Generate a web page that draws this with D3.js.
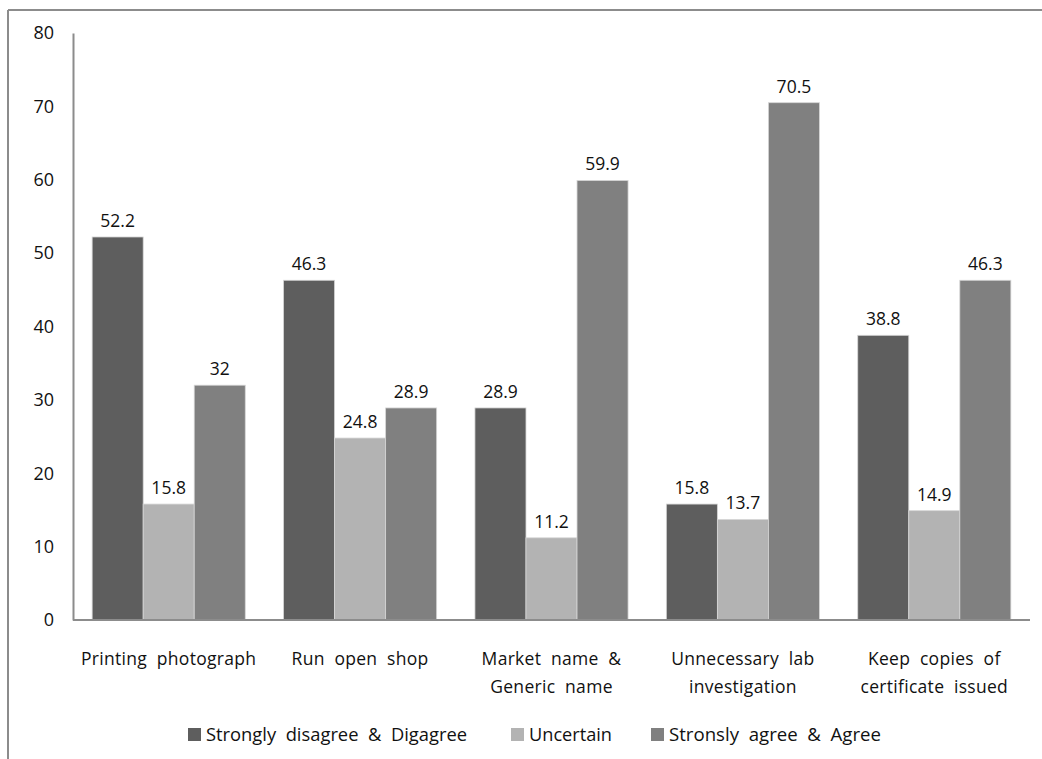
<!DOCTYPE html>
<html>
<head>
<meta charset="utf-8">
<script src="https://cdn.jsdelivr.net/npm/d3@7"></script>
<style>
  html, body { margin: 0; padding: 0; background: #fff; }
  svg { display: block; }
  text { font-family: "Open Sans", "Liberation Sans", sans-serif; fill: #111; }
</style>
</head>
<body>
<script>
// Survey responses (%) per statement
const categories = [
  ["Printing  photograph"],
  ["Run  open  shop"],
  ["Market  name  &", "Generic  name"],
  ["Unnecessary  lab", "investigation"],
  ["Keep  copies  of", "certificate  issued"]
];
const seriesNames = ["Strongly  disagree  &  Digagree", "Uncertain", "Stronsly  agree  &  Agree"];
const disagree = [52.2, 46.3, 28.9, 15.8, 38.8];
const uncertain = [15.8, 24.8, 11.2, 13.7, 14.9];
const agree = [32, 28.9, 59.9, 70.5, 46.3];
const yTicks = [0, 10, 20, 30, 40, 50, 60, 70, 80];
const colors = ["#5e5e5e", "#b3b3b3", "#808080"];

const W = 1042, H = 759;
const m = { left: 73, right: 12, top: 33, bottom: 139 };
const svg = d3.select("body").append("svg").attr("width", W).attr("height", H);

// frame lines
svg.append("line").attr("x1", 8).attr("x2", W).attr("y1", 10).attr("y2", 10)
  .attr("stroke", "#8c8c8c").attr("stroke-width", 2);
svg.append("line").attr("x1", 8).attr("x2", 8).attr("y1", 10).attr("y2", H)
  .attr("stroke", "#8c8c8c").attr("stroke-width", 2);

const x0 = d3.scaleBand().domain(d3.range(categories.length))
  .range([m.left, W - m.right]).paddingInner(0.2).paddingOuter(0.1);
const x1 = d3.scaleBand().domain(d3.range(3)).range([0, x0.bandwidth()]);
const y = d3.scaleLinear().domain([0, 80]).range([H - m.bottom, m.top]);

const series = [disagree, uncertain, agree];

// y axis
const yAxis = svg.append("g").attr("transform", `translate(${m.left},0)`)
  .call(d3.axisLeft(y).tickValues(yTicks).tickSize(0).tickPadding(19));
yAxis.select(".domain").attr("stroke", "#8c8c8c").attr("stroke-width", 2);
yAxis.selectAll("text").attr("font-size", 18).style("font-family", "'Open Sans', sans-serif").attr("fill", "#111");

// bars
const groups = svg.append("g").selectAll("g").data(categories).join("g")
  .attr("transform", (d, i) => `translate(${x0(i)},0)`);

groups.each(function (_, i) {
  const g = d3.select(this);
  series.forEach((s, k) => {
    g.append("rect")
      .attr("x", x1(k)).attr("width", x1.bandwidth())
      .attr("y", y(s[i])).attr("height", y(0) - y(s[i]))
      .attr("fill", colors[k]).attr("stroke", "#d6d6d6").attr("stroke-width", 0.8);
    g.append("text")
      .attr("x", x1(k) + x1.bandwidth() / 2).attr("y", y(s[i]) - 10)
      .attr("text-anchor", "middle").attr("font-size", 17.5)
      .text(s[i]);
  });
  const lab = g.append("text").attr("text-anchor", "middle").attr("font-size", 17.5)
    .attr("letter-spacing", 0.3).attr("y", y(0) + 45);
  categories[i].forEach((line, j) => {
    lab.append("tspan").attr("x", x0.bandwidth() / 2).attr("dy", j === 0 ? 0 : 28)
      .style("white-space", "pre").text(line);
  });
});

// x axis baseline
svg.append("line").attr("x1", m.left).attr("x2", W - m.right)
  .attr("y1", y(0)).attr("y2", y(0)).attr("stroke", "#8c8c8c").attr("stroke-width", 2);

// legend
const legendX = [188, 511, 651];
const legendW = [261, 83, 212];
const legend = svg.append("g");
seriesNames.forEach((name, k) => {
  legend.append("rect").attr("x", legendX[k]).attr("y", 728).attr("width", 13).attr("height", 13)
    .attr("fill", colors[k]);
  legend.append("text").attr("x", legendX[k] + 18).attr("y", 741).attr("font-size", 17.5)
    .attr("textLength", legendW[k]).attr("lengthAdjust", "spacingAndGlyphs")
    .style("white-space", "pre").text(name);
});
</script>
</body>
</html>
